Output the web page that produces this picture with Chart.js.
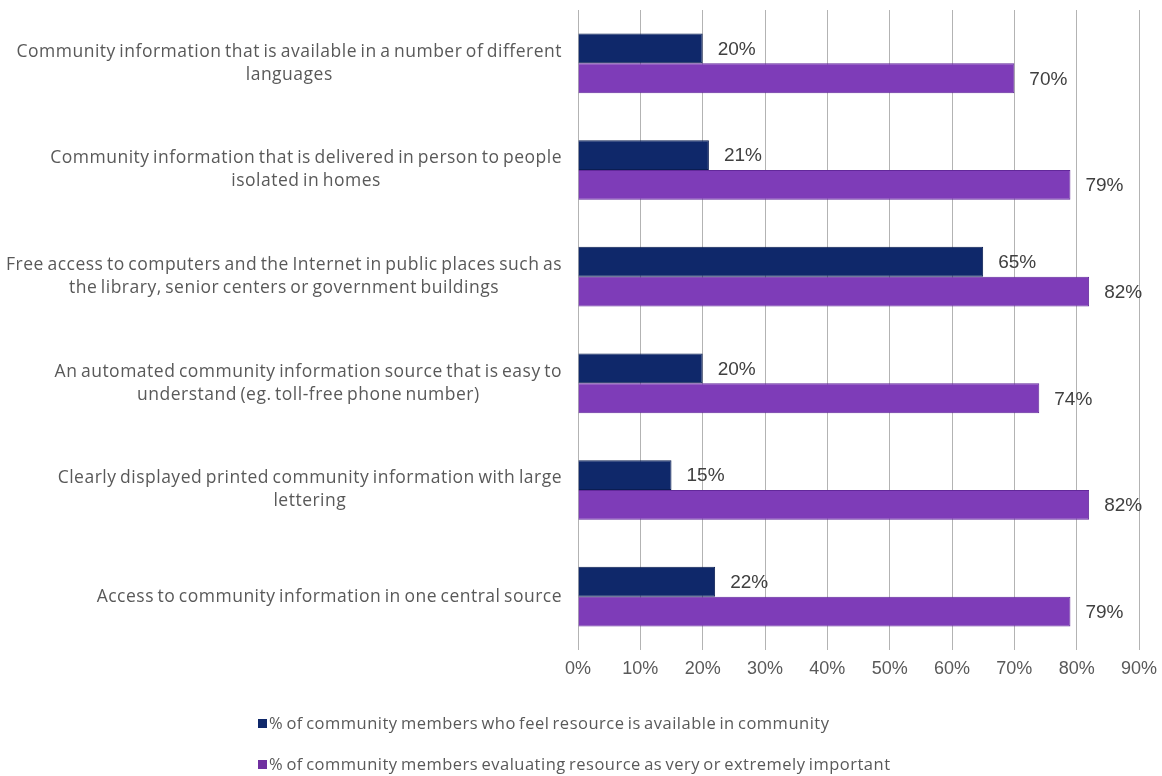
<!DOCTYPE html>
<html>
<head>
<meta charset="utf-8">
<script src="https://cdn.jsdelivr.net/npm/chart.js@4/dist/chart.umd.min.js"></script>
<style>
  html, body { margin: 0; padding: 0; background: #fff; }
  #wrap { width: 1162px; height: 776px; position: relative; }
</style>
</head>
<body>
<div id="wrap"><canvas id="grafico"></canvas></div>
<script>
// categorias (cada linha do rótulo separada)
var categorias = [
    ["Community information that is available in a number of different", "languages"],
    ["Community information that is delivered in person to people", "isolated in homes"],
    ["Free access to computers and the Internet in public places such as", "the library, senior centers or government buildings"],
    ["An automated community information source that is easy to", "understand (eg. toll-free phone number)"],
    ["Clearly displayed printed community information with large", "lettering"],
    ["Access to community information in one central source"]
];

var disponivel  = [20, 21, 65, 20, 15, 22];
var importante  = [70, 79, 82, 74, 82, 79];

var legendas = [
    "% of community members who feel resource is available in community",
    "% of community members evaluating resource as very or extremely important"
];

var ticksX = [0, 10, 20, 30, 40, 50, 60, 70, 80, 90];

var corAzul = "#0f286a";
var corRoxo = "#7e3cb8";
var fonteRotulo = "17.5px 'Open Sans', sans-serif";
var fonteLegenda = "16.5px 'Open Sans', sans-serif";
var fonteNum = "19px 'Liberation Sans', Arial, sans-serif";

// rótulos das categorias: bloco alinhado à direita, linhas centralizadas
var pluginRotulos = {
    id: "rotulos",
    afterDraw: function (chart) {
        var ctx = chart.ctx;
        var escalaY = chart.scales.y;
        var direita = 562;
        ctx.save();
        ctx.font = fonteRotulo;
        ctx.letterSpacing = "0.5px";
        ctx.wordSpacing = "-1.5px";
        ctx.fillStyle = "#595959";
        ctx.textAlign = "center";
        ctx.textBaseline = "middle";
        categorias.forEach(function (linhas, i) {
            var largura = 0;
            linhas.forEach(function (l) {
                largura = Math.max(largura, ctx.measureText(l).width);
            });
            var cx = direita - largura / 2;
            var cy = escalaY.getPixelForTick(i);
            var alturaLinha = 23;
            var y0 = cy - (linhas.length - 1) * alturaLinha / 2;
            linhas.forEach(function (l, k) {
                ctx.fillText(l, cx, y0 + k * alturaLinha);
            });
        });

        // legenda empilhada embaixo
        ctx.font = fonteLegenda;
        var cores = [corAzul, "#7030a0"];
        var ys = [724, 765];
        legendas.forEach(function (txt, i) {
            ctx.fillStyle = cores[i];
            ctx.fillRect(258, ys[i] - 5, 9, 9);
            ctx.fillStyle = "#595959";
            ctx.textAlign = "left";
            ctx.fillText(txt, 269, ys[i]);
        });
        ctx.restore();
    }
};

// valores ao lado das barras
var pluginValores = {
    id: "valores",
    afterDatasetsDraw: function (chart) {
        var ctx = chart.ctx;
        ctx.save();
        ctx.font = fonteNum;
        ctx.fillStyle = "#404040";
        ctx.textAlign = "left";
        ctx.textBaseline = "middle";
        chart.data.datasets.forEach(function (ds, d) {
            chart.getDatasetMeta(d).data.forEach(function (barra, i) {
                ctx.fillText(ds.data[i] + "%", barra.x + 15, barra.y + 1);
            });
        });
        ctx.restore();
    }
};

new Chart(document.getElementById("grafico"), {
    type: "bar",
    data: {
        labels: categorias,
        datasets: [
            {
                label: legendas[0],
                data: disponivel,
                backgroundColor: corAzul,
                borderColor: "#0a1d52",
                borderWidth: 1,
                borderSkipped: "left",
                categoryPercentage: 0.56,
                barPercentage: 1.0
            },
            {
                label: legendas[1],
                data: importante,
                backgroundColor: corRoxo,
                borderColor: "#62289a",
                borderWidth: 1,
                borderSkipped: "left",
                categoryPercentage: 0.56,
                barPercentage: 1.0
            }
        ]
    },
    options: {
        indexAxis: "y",
        responsive: true,
        maintainAspectRatio: false,
        animation: false,
        layout: { padding: { top: 10, right: 23, left: 0, bottom: 0 } },
        plugins: {
            legend: { display: false },
            tooltip: { enabled: false }
        },
        scales: {
            x: {
                min: 0,
                max: 90,
                afterBuildTicks: function (escala) {
                    escala.ticks = ticksX.map(function (v) { return { value: v }; });
                },
                afterFit: function (escala) {
                    escala.height = 126;
                    escala.paddingLeft = 0;
                    escala.paddingRight = 0;
                },
                grid: { color: "#b3b3b3", drawTicks: false },
                border: { display: false },
                ticks: {
                    padding: 8,
                    color: "#595959",
                    font: { family: "'Liberation Sans', Arial, sans-serif", size: 18 },
                    callback: function (v) { return v + "%"; }
                }
            },
            y: {
                afterFit: function (escala) { escala.width = 578; },
                grid: { display: false },
                border: { display: false },
                ticks: { display: false }
            }
        }
    },
    plugins: [pluginRotulos, pluginValores]
});
</script>
</body>
</html>
